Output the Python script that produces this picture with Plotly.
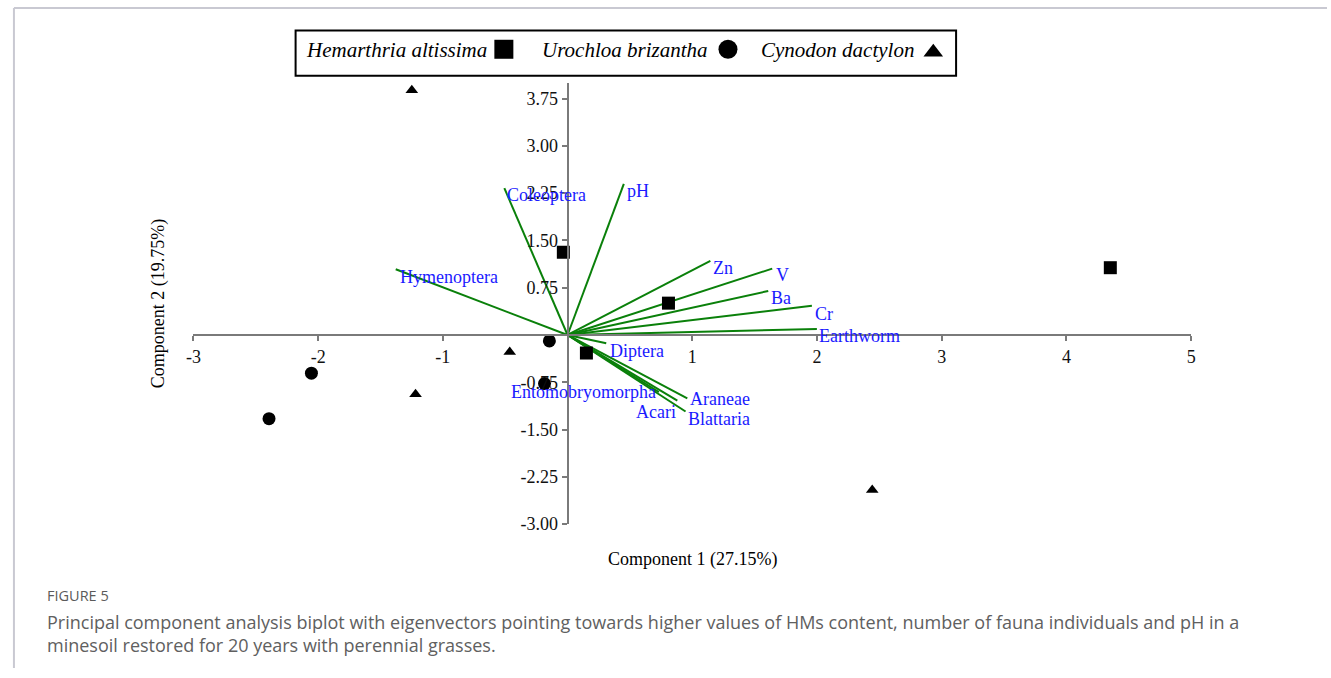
import plotly.graph_objects as go

# ---------------- data ----------------
species = ["Hemarthria altissima", "Urochloa brizantha", "Cynodon dactylon"]
h_x = [-0.034, 0.809, 4.352, 0.151]
h_y = [1.312, 0.505, 1.067, -0.286]
u_x = [-0.146, -2.054, -2.394, -0.185]
u_y = [-0.094, -0.605, -1.328, -0.770]
c_x = [-1.249, -0.464, -1.219, 2.443]
c_y = [3.880, -0.270, -0.938, -2.458]

vec_names = ["Coleoptera", "pH", "Hymenoptera", "Zn", "V", "Ba", "Cr",
             "Earthworm", "Diptera", "Araneae", "Acari", "Blattaria",
             "Entomobryomorpha"]
vec_x = [-0.507, 0.451, -1.378, 1.145, 1.641, 1.609, 1.959,
         1.999, 0.310, 0.960, 0.880, 0.946, 0.732]
vec_y = [2.328, 2.395, 1.042, 1.177, 1.052, 0.698, 0.464,
         0.094, -0.130, -1.005, -1.042, -1.214, -0.906]

x_ticks = [-3, -2, -1, 1, 2, 3, 4, 5]
x_ticktext = ["-3", "-2", "-1", "1", "2", "3", "4", "5"]
y_ticks = [3.75, 3.0, 2.25, 1.5, 0.75, -0.75, -1.5, -2.25, -3.0]
y_ticktext = ["3.75", "3.00", "2.25", "1.50", "0.75", "-0.75", "-1.50", "-2.25", "-3.00"]

x_title = "Component 1 (27.15%)"
y_title = "Component 2 (19.75%)"
caption_head = "FIGURE 5"
caption_1 = ("Principal component analysis biplot with eigenvectors pointing towards higher "
             "values of HMs content, number of fauna individuals and pH in a")
caption_2 = "minesoil restored for 20 years with perennial grasses."

# ---------------- layout / style ----------------
W, H = 1331, 678
PX0, PX1, PY0, PY1 = 188, 1194, 84, 532   # plot area in pixels
XR, YR = [-3, 5], [-3, 4]
xdom = [PX0 / W, PX1 / W]
ydom = [1 - PY1 / H, 1 - PY0 / H]
x_zero_paper = xdom[0] + (0 - XR[0]) / (XR[1] - XR[0]) * (xdom[1] - xdom[0])
y_zero_paper = ydom[0] + (0 - YR[0]) / (YR[1] - YR[0]) * (ydom[1] - ydom[0])

SERIF = "Liberation Serif, Times New Roman, serif"
SANS = "Open Sans, Noto Sans, sans-serif"
GREEN = "#0a800a"
BLUE = "#1a1aff"
AXIS = "#7a7a7a"

# label placement (xanchor, dx px, dy px downward)
label_place = {
    "Coleoptera": ("left", 1, 7), "pH": ("left", 1, 7), "Hymenoptera": ("left", 2, 8),
    "Zn": ("left", 1, 7), "V": ("left", 2, 6), "Ba": ("left", 1, 7), "Cr": ("left", 1, 8),
    "Earthworm": ("left", 0, 7), "Diptera": ("left", 2, 8), "Araneae": ("left", 1, 1),
    "Acari": ("right", 1, 11), "Blattaria": ("left", 0, 7),
    "Entomobryomorpha": ("right", -1, 0),
}

fig = go.Figure()

# eigenvector lines
lx, ly = [], []
for ex, ey in zip(vec_x, vec_y):
    lx += [0, ex, None]
    ly += [0, ey, None]
fig.add_trace(go.Scatter(x=lx, y=ly, mode="lines", line=dict(color=GREEN, width=2),
                         hoverinfo="skip", showlegend=False))

marker_style = {
    species[0]: dict(symbol="square", size=13),
    species[1]: dict(symbol="circle", size=13),
    species[2]: dict(symbol="triangle-up", size=11),
}
for name, xs, ys in [(species[0], h_x, h_y), (species[1], u_x, u_y), (species[2], c_x, c_y)]:
    fig.add_trace(go.Scatter(x=xs, y=ys, mode="markers", name=name,
                             marker=dict(color="black", **marker_style[name]),
                             showlegend=False, cliponaxis=False))

annotations = []
for n, ex, ey in zip(vec_names, vec_x, vec_y):
    anc, dx, dy = label_place[n]
    annotations.append(dict(x=ex, y=ey, xref="x", yref="y", text=n, showarrow=False,
                            xanchor=anc, yanchor="middle", xshift=dx, yshift=-dy,
                            font=dict(family=SERIF, size=18, color=BLUE)))

# axis titles
annotations.append(dict(x=(xdom[0] + xdom[1]) / 2, y=1 - 568 / H, xref="paper", yref="paper",
                        text=x_title, showarrow=False, xanchor="center", yanchor="middle",
                        font=dict(family=SERIF, size=18, color="black")))
annotations.append(dict(x=153 / W, y=1 - 308 / H, xref="paper", yref="paper",
                        text=y_title, showarrow=False, textangle=-90,
                        xanchor="center", yanchor="middle",
                        font=dict(family=SERIF, size=18, color="black")))

# custom legend (text followed by symbol)
leg_text_x = [299, 537, 758]
leg_mark_x = [501, 727, 934]
for name, tx in zip(species, leg_text_x):
    annotations.append(dict(x=tx / W, y=1 - 51 / H, xref="paper", yref="paper",
                            text="<i>" + name + "</i>", showarrow=False,
                            xanchor="left", yanchor="middle",
                            font=dict(family=SERIF, size=21, color="black")))
leg_marker_style = [dict(symbol="square", size=19), dict(symbol="circle", size=19),
                    dict(symbol="triangle-up", size=17)]
for mx, ms in zip(leg_mark_x, leg_marker_style):
    fig.add_trace(go.Scatter(x=[mx], y=[50 if ms["symbol"] != "triangle-up" else 53],
                             mode="markers", xaxis="x2", yaxis="y2",
                             marker=dict(color="black", **ms),
                             showlegend=False, hoverinfo="skip", cliponaxis=False))

# caption
annotations.append(dict(x=38 / W, y=1 - 604 / H, xref="paper", yref="paper", text=caption_head,
                        showarrow=False, xanchor="left", yanchor="middle",
                        font=dict(family=SANS, size=14.5, color="#5a5a5a")))
annotations.append(dict(x=38 / W, y=1 - 631 / H, xref="paper", yref="paper", text=caption_1,
                        showarrow=False, xanchor="left", yanchor="middle",
                        font=dict(family=SANS, size=18, color="#606060")))
annotations.append(dict(x=38 / W, y=1 - 655 / H, xref="paper", yref="paper", text=caption_2,
                        showarrow=False, xanchor="left", yanchor="middle",
                        font=dict(family=SANS, size=18, color="#606060")))

shapes = [
    # legend box
    dict(type="rect", xref="paper", yref="paper", x0=291 / W, x1=957 / W,
         y0=1 - 77 / H, y1=1 - 31 / H, line=dict(color="black", width=2)),
    # page frame
    dict(type="line", xref="paper", yref="paper", x0=7 / W, x1=1, y0=1 - 8 / H, y1=1 - 8 / H,
         line=dict(color="#c9c9d2", width=2)),
    dict(type="line", xref="paper", yref="paper", x0=7 / W, x1=7 / W, y0=0, y1=1 - 8 / H,
         line=dict(color="#c9c9d2", width=2)),
]

axis_common = dict(showgrid=False, zeroline=False, showline=True, linecolor=AXIS, linewidth=2,
                   ticks="outside", ticklen=5, tickwidth=2, tickcolor=AXIS,
                   tickfont=dict(family=SERIF, size=18, color="#111111"), anchor="free")

fig.update_layout(
    width=W, height=H, autosize=False,
    margin=dict(l=0, r=0, t=0, b=0),
    paper_bgcolor="white", plot_bgcolor="rgba(0,0,0,0)",
    xaxis=dict(domain=xdom, range=XR, position=y_zero_paper,
               tickmode="array", tickvals=x_ticks, ticktext=x_ticktext, **axis_common),
    yaxis=dict(domain=ydom, range=YR, position=x_zero_paper,
               tickmode="array", tickvals=y_ticks, ticktext=y_ticktext, **axis_common),
    xaxis2=dict(domain=[0, 1], range=[0, W], visible=False, anchor="y2", fixedrange=True),
    yaxis2=dict(domain=[1 - 80 / H, 1 - 28 / H], range=[80, 28], visible=False, anchor="x2",
                fixedrange=True),
    annotations=annotations, shapes=shapes,
    showlegend=False,
)

fig.write_html(
    "out.html",
    config={"displayModeBar": False},
    post_script="document.body.style.margin='0';document.body.style.overflow='hidden';",
)
